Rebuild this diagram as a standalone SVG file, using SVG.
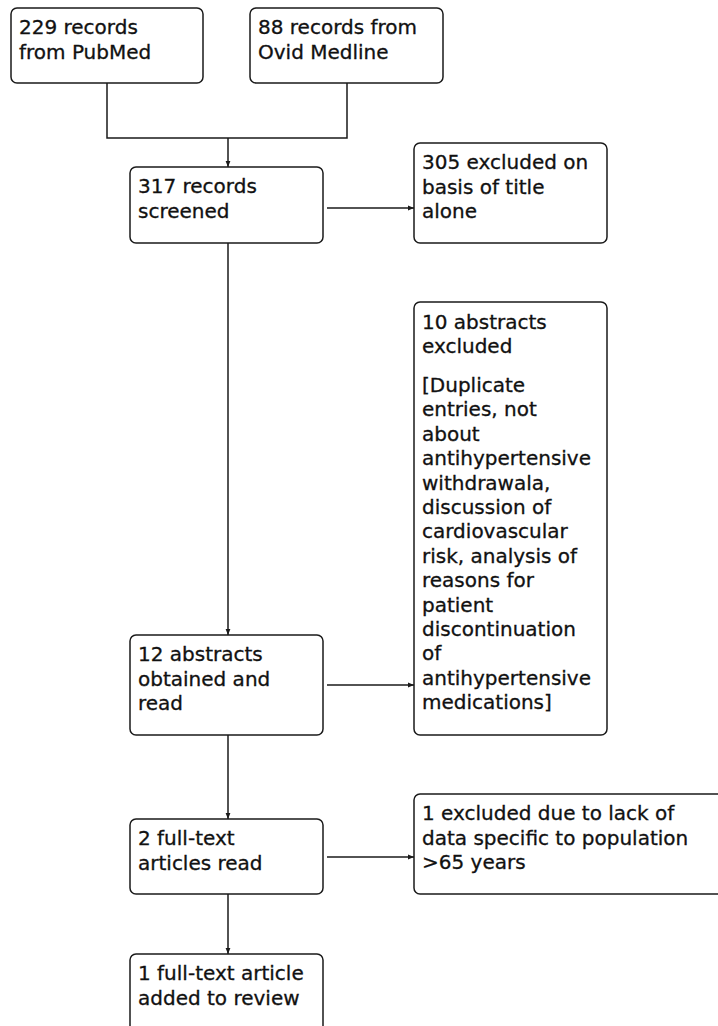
<svg xmlns="http://www.w3.org/2000/svg" width="718" height="1026" viewBox="0 0 718 1026">
<style>
.box{fill:#fff;stroke:#1a1a1a;stroke-width:1.5}
.t{font-family:"DejaVu Sans",Verdana,sans-serif;font-size:20px;fill:#111;stroke:#111;stroke-width:0.3}
.c{fill:none;stroke:#1a1a1a;stroke-width:1.5}
</style>
<defs>
<marker id="ah" viewBox="0 0 10 10" refX="10" refY="5" markerWidth="9" markerHeight="6" markerUnits="userSpaceOnUse" orient="auto">
<path d="M0,1 L10,5 L0,9 Z" fill="#1a1a1a"/>
</marker>
</defs>
<rect width="718" height="1026" fill="#fff"/>
<g id="connectors">
<path class="c" d="M107,83 V138 H347 V83"/>
<path class="c" d="M228,138 V167" marker-end="url(#ah)"/>
<path class="c" d="M327,208 H414" marker-end="url(#ah)"/>
<path class="c" d="M228,243 V635" marker-end="url(#ah)"/>
<path class="c" d="M327,685 H414" marker-end="url(#ah)"/>
<path class="c" d="M228,735 V819" marker-end="url(#ah)"/>
<path class="c" d="M327,857 H414" marker-end="url(#ah)"/>
<path class="c" d="M228,894 V954" marker-end="url(#ah)"/>
</g>
<g id="pubmed">
<rect class="box" x="11" y="8" width="192" height="75" rx="6"/>
<text class="t" x="19" y="34">229 records</text>
<text class="t" x="19" y="58.5">from PubMed</text>
</g>
<g id="ovid">
<rect class="box" x="250" y="8" width="193" height="75" rx="6"/>
<text class="t" x="258" y="34">88 records from</text>
<text class="t" x="258" y="58.5">Ovid Medline</text>
</g>
<g id="screened">
<rect class="box" x="130" y="167" width="193" height="76" rx="6"/>
<text class="t" x="138" y="193">317 records</text>
<text class="t" x="138" y="217.5">screened</text>
</g>
<g id="excluded-title">
<rect class="box" x="414" y="143" width="193" height="100" rx="6"/>
<text class="t" x="422" y="169">305 excluded on</text>
<text class="t" x="422" y="193.5">basis of title</text>
<text class="t" x="422" y="218">alone</text>
</g>
<g id="excluded-abstracts">
<rect class="box" x="414" y="302" width="193" height="433" rx="6"/>
<text class="t" x="422" y="329">10 abstracts</text>
<text class="t" x="422" y="353">excluded</text>
<text class="t" x="422" y="392">[Duplicate</text>
<text class="t" x="422" y="416.4">entries, not</text>
<text class="t" x="422" y="440.8">about</text>
<text class="t" x="422" y="465.2">antihypertensive</text>
<text class="t" x="422" y="489.6">withdrawala,</text>
<text class="t" x="422" y="514">discussion of</text>
<text class="t" x="422" y="538.4">cardiovascular</text>
<text class="t" x="422" y="562.8">risk, analysis of</text>
<text class="t" x="422" y="587.2">reasons for</text>
<text class="t" x="422" y="611.6">patient</text>
<text class="t" x="422" y="636">discontinuation</text>
<text class="t" x="422" y="660.4">of</text>
<text class="t" x="422" y="684.8">antihypertensive</text>
<text class="t" x="422" y="709.2">medications]</text>
</g>
<g id="abstracts-read">
<rect class="box" x="130" y="635" width="193" height="100" rx="6"/>
<text class="t" x="138" y="661">12 abstracts</text>
<text class="t" x="138" y="685.5">obtained and</text>
<text class="t" x="138" y="710">read</text>
</g>
<g id="fulltext-read">
<rect class="box" x="130" y="819" width="193" height="75" rx="6"/>
<text class="t" x="138" y="845">2 full-text</text>
<text class="t" x="138" y="869.5">articles read</text>
</g>
<g id="excluded-population">
<rect class="box" x="414" y="794" width="310" height="100" rx="6"/>
<text class="t" x="422" y="820">1 excluded due to lack of</text>
<text class="t" x="422" y="844.5">data specific to population</text>
<text class="t" x="422" y="869">&gt;65 years</text>
</g>
<g id="added">
<rect class="box" x="130" y="954" width="193" height="80" rx="6"/>
<text class="t" x="138" y="980">1 full-text article</text>
<text class="t" x="138" y="1004.5">added to review</text>
</g>
</svg>
